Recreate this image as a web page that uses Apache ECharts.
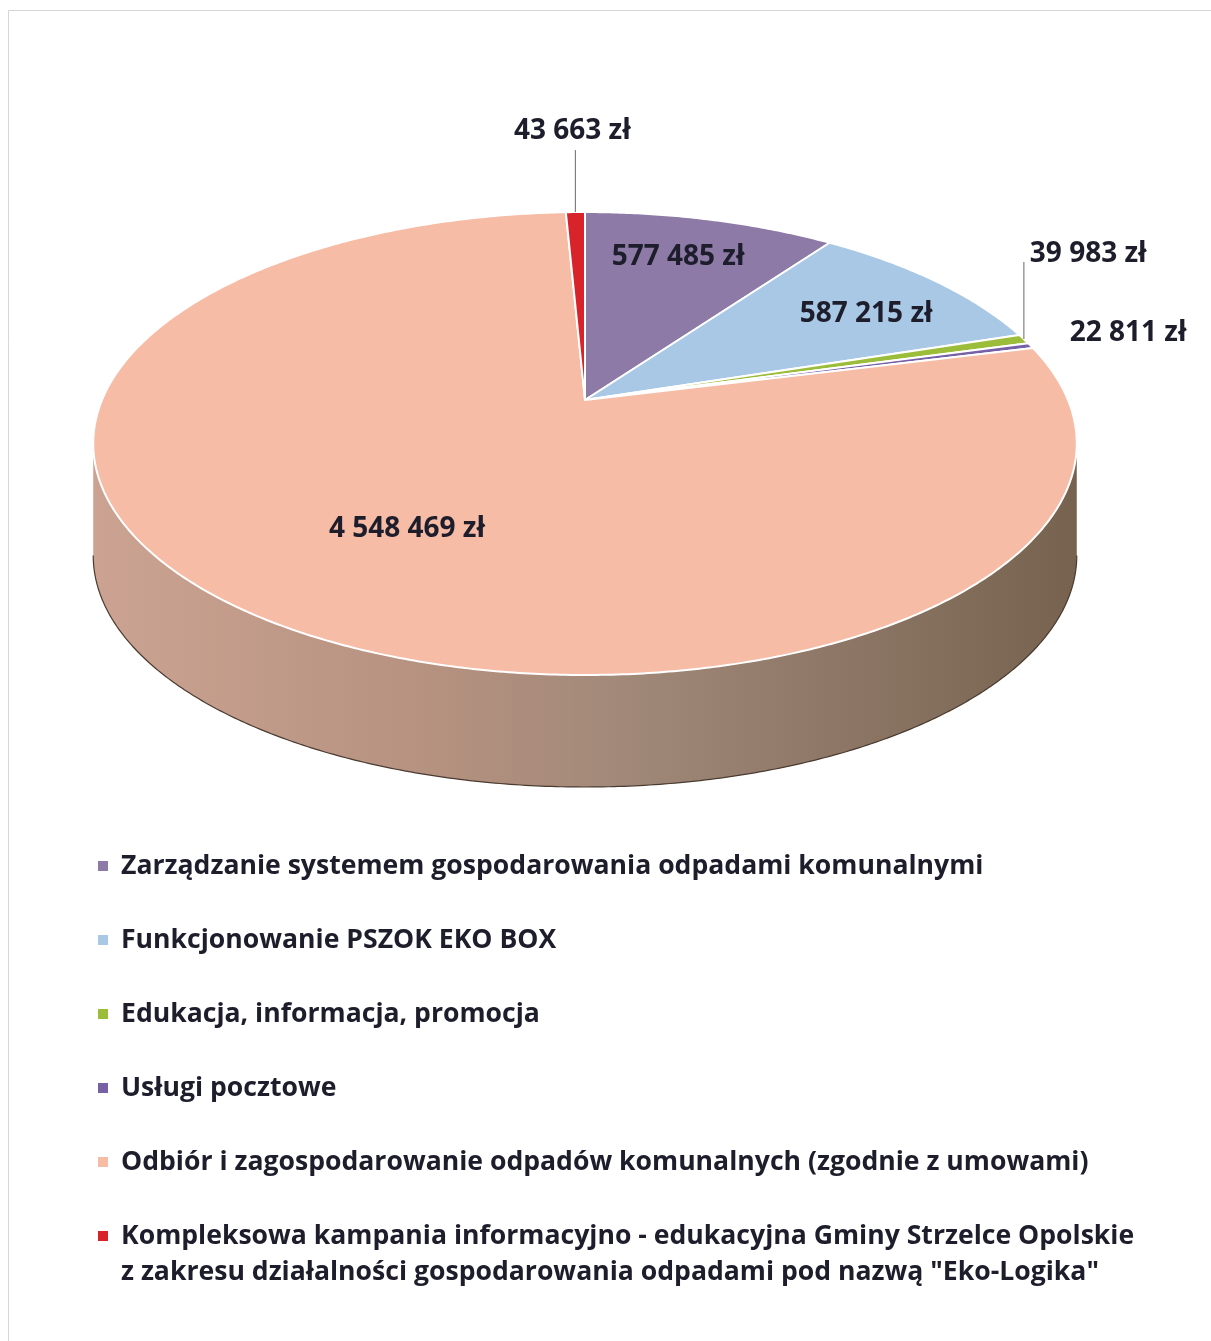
<!DOCTYPE html>
<html>
<head>
<meta charset="utf-8">
<title>Wydatki - system gospodarowania odpadami</title>
<script src="https://cdn.jsdelivr.net/npm/echarts@6/dist/echarts.min.js"></script>
<style>
  html, body { margin: 0; padding: 0; background: #fff; }
  #main { width: 1211px; height: 1341px; }
</style>
</head>
<body>
<div id="main"></div>
<script>
// dane
var categories = [
    'Zarządzanie systemem gospodarowania odpadami komunalnymi',
    'Funkcjonowanie PSZOK EKO BOX',
    'Edukacja, informacja, promocja',
    'Usługi pocztowe',
    'Odbiór i zagospodarowanie odpadów komunalnych (zgodnie z umowami)',
    'Kompleksowa kampania informacyjno - edukacyjna Gminy Strzelce Opolskie\nz zakresu działalności gospodarowania odpadami pod nazwą "Eko-Logika"'
]
var values = [577485, 587215, 39983, 22811, 4548469, 43663]
var colors = ['#8d7aa6', '#a9c8e6', '#9cbd3a', '#7660a6', '#f6bca6', '#d8232a']

// rozmieszczenie etykiet (f - ułamek promienia, dx/dy - przesunięcie)
var labelSpots = [
    {f: 0.7, dx: 1, dy: -11, align: 'center'},
    {f: 0.75, dx: 11, dy: 5, align: 'center'},
    {f: 1, dx: 6, dy: -85, align: 'left', leader: -77},
    {f: 1, dx: 39, dy: -13, align: 'left'},
    {f: 0.6, dx: 12, dy: 11, align: 'center'},
    {f: 1, dx: -3, dy: -81, align: 'center', leader: -62}
]

// geometria "3D" (perspektywa)
var CX = 585, CY = 400, RX = 483, RY = 223.3, P = 0.188, DEPTH = 112
var SIDE_FROM = Math.acos(-P) * 180 / Math.PI
var SIDE_TO = 360 - SIDE_FROM

var total = values.reduce(function (a, b) { return a + b }, 0)
var startAngles = [], endAngles = []
var acc = 0
values.forEach(function (v) {
    startAngles.push(acc / total * 360)
    acc += v
    endAngles.push(acc / total * 360)
})

function fmt(v) {
    return String(v).replace(/\B(?=(\d{3})+(?!\d))/g, ' ') + ' zł'
}

function proj(theta, f) {
    var t = theta * Math.PI / 180
    var s = Math.sin(t) * f, c = Math.cos(t) * f
    var d = 1 + P * c
    return [CX + RX * s / d, CY - RY * c / d]
}

function arcPoints(a0, a1, f, dy) {
    var pts = []
    var n = Math.max(2, Math.ceil((a1 - a0) / 0.5) + 1)
    for (var k = 0; k < n; k++) {
        var p = proj(a0 + (a1 - a0) * k / (n - 1), f)
        pts.push([p[0], p[1] + (dy || 0)])
    }
    return pts
}

var sideFill = {
    type: 'linear', x: 0, y: 0, x2: 1, y2: 0,
    colorStops: [
        {offset: 0, color: '#cca392'},
        {offset: 0.35, color: '#b5917f'},
        {offset: 0.55, color: '#a08879'},
        {offset: 1, color: '#77624f'}
    ]
}

function renderSlice(i) {
    var a0 = startAngles[i], a1 = endAngles[i]
    var children = []
    // bok walca (widoczny tylko z przodu)
    var s0 = Math.max(a0, SIDE_FROM), s1 = Math.min(a1, SIDE_TO)
    if (s1 > s0) {
        var top = arcPoints(s0, s1, 1, 0)
        var bot = arcPoints(s0, s1, 1, DEPTH).reverse()
        children.push({type: 'polygon', z2: 1, shape: {points: top.concat(bot)}, style: {fill: sideFill}})
        children.push({type: 'polyline', z2: 2, shape: {points: bot}, style: {stroke: '#4a3b30', lineWidth: 1.2, fill: null}})
    }
    // wierzch
    var pts = [proj(0, 0)].concat(arcPoints(a0, a1, 1, 0))
    children.push({
        type: 'polygon', z2: 5,
        shape: {points: pts},
        style: {fill: colors[i], stroke: '#ffffff', lineWidth: 2, lineJoin: 'round'}
    })
    // etykieta
    var sp = labelSpots[i]
    var anchor = proj((a0 + a1) / 2, sp.f)
    if (sp.leader) {
        children.push({
            type: 'line', z2: 15,
            shape: {x1: anchor[0], y1: anchor[1], x2: anchor[0], y2: anchor[1] + sp.leader},
            style: {stroke: '#808080', lineWidth: 1.2}
        })
    }
    children.push({
        type: 'text', z2: 20,
        x: anchor[0] + sp.dx, y: anchor[1] + sp.dy,
        style: {
            text: fmt(values[i]),
            font: 'bold 28px "Open Sans"',
            fill: '#1d1d2b',
            align: sp.align,
            verticalAlign: 'middle'
        }
    })
    return {type: 'group', children: children}
}

var chart = echarts.init(document.getElementById('main'))

var legendText = {
    fontFamily: 'Open Sans',
    fontWeight: 'bold',
    fontSize: 26.6,
    lineHeight: 36,
    color: '#1d1d2b',
    padding: [0, 0, 0, 8]
}

chart.setOption({
    backgroundColor: '#ffffff',
    animation: false,
    color: colors,
    graphic: [{
        type: 'rect',
        shape: {x: 8.5, y: 10.5, width: 1240, height: 1360},
        style: {fill: null, stroke: '#d6d6d6', lineWidth: 1},
        silent: true
    }],
    legend: [{
        orient: 'vertical',
        left: 98,
        top: 848,
        padding: 0,
        itemGap: 38,
        itemWidth: 10,
        itemHeight: 10,
        icon: 'rect',
        selectedMode: false,
        data: categories.slice(0, 5),
        textStyle: legendText
    }, {
        // ostatnia pozycja w dwóch liniach - pusta linia na górze, żeby znacznik był przy pierwszej
        orient: 'vertical',
        left: 98,
        top: 1182,
        padding: 0,
        itemWidth: 10,
        itemHeight: 10,
        icon: 'rect',
        selectedMode: false,
        data: categories.slice(5),
        formatter: function (name) { return '\n' + name },
        textStyle: legendText
    }],
    series: categories.map(function (name, i) {
        return {
            type: 'custom',
            name: name,
            coordinateSystem: 'none',
            silent: true,
            itemStyle: {color: colors[i]},
            data: [values[i]],
            renderItem: function () { return renderSlice(i) }
        }
    })
})
</script>
</body>
</html>
